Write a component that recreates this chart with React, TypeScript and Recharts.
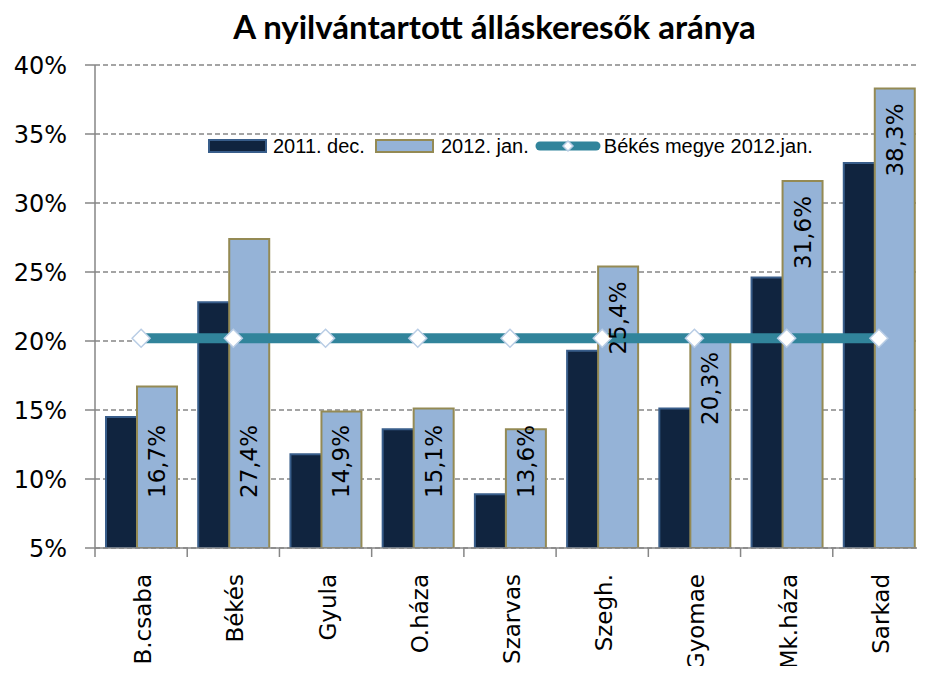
import React from 'react';
import { ComposedChart, Bar, Line, XAxis, YAxis, CartesianGrid, Legend, LabelList } from 'recharts';

const categories = ['B.csaba', 'Békés', 'Gyula', 'O.háza', 'Szarvas', 'Szegh.', 'Gyomae', 'Mk.háza', 'Sarkad'];
const dec2011 = [14.5, 22.8, 11.8, 13.6, 8.9, 19.3, 15.1, 24.6, 32.9];
const jan2012 = [16.7, 27.4, 14.9, 15.1, 13.6, 25.4, 20.3, 31.6, 38.3];
const county2012 = [20.2, 20.2, 20.2, 20.2, 20.2, 20.2, 20.2, 20.2, 20.2];
const yTicks = [5, 10, 15, 20, 25, 30, 35, 40];
const seriesNames = ['2011. dec.', '2012. jan.', 'Békés megye 2012.jan.'];
const title = 'A nyilvántartott álláskeresők aránya';

const data = categories.map((name, i) => ({
  name,
  dec: dec2011[i],
  jan: jan2012[i],
  county: county2012[i],
}));

const W = 925;
const H = 674;
const Y_AXIS_W = 95;
const X_AXIS_H = 126;
const TOP = 65;
const PLOT_BOTTOM = H - X_AXIS_H;
const BAND = (W - Y_AXIS_W) / categories.length;

const DARK_FILL = '#10243F';
const DARK_STROKE = '#385D8A';
const LIGHT_FILL = '#95B3D7';
const LIGHT_STROKE = '#948A54';
const LINE_COLOR = '#31849B';
const AXIS_COLOR = '#868686';
const TICK_FONT = 'DejaVu Sans, Verdana, sans-serif';

const XTick = (props: any) => {
  const { x, payload, index } = props;
  const left = x - BAND / 2;
  const right = x + BAND / 2;
  return (
    <g>
      <line x1={left} y1={PLOT_BOTTOM} x2={left} y2={PLOT_BOTTOM + 9} stroke={AXIS_COLOR} strokeWidth={1.5} />
      {index === categories.length - 1 && (
        <line x1={right} y1={PLOT_BOTTOM} x2={right} y2={PLOT_BOTTOM + 9} stroke={AXIS_COLOR} strokeWidth={1.5} />
      )}
      <text
        transform={`translate(${x + 10},${PLOT_BOTTOM + 26}) rotate(-90)`}
        textAnchor="end"
        style={{ fontFamily: TICK_FONT }}
        fontSize={23}
        fill="#000"
      >
        {payload.value}
      </text>
    </g>
  );
};

const YTick = (props: any) => {
  const { x, y, payload } = props;
  return (
    <text x={x} y={y} dy="0.36em" textAnchor="end" style={{ fontFamily: TICK_FONT }} fontSize={24} fill="#000">
      {`${payload.value}%`}
    </text>
  );
};

const JanLabel = (props: any) => {
  const { x, y, width, height, value, index } = props;
  const cx = x + width / 2 + 8;
  const nearBase = index < 5;
  const ty = nearBase ? y + height - 50 : y + 15;
  return (
    <text
      transform={`translate(${cx},${ty}) rotate(-90)`}
      textAnchor={nearBase ? 'start' : 'end'}
      style={{ fontFamily: TICK_FONT }}
      fontSize={23}
      fill="#000"
    >
      {Number(value).toFixed(1).replace('.', ',') + '%'}
    </text>
  );
};

const Diamond = (props: any) => {
  const { cx, cy, index } = props;
  const r = 9;
  return (
    <polygon
      key={`d-${index}`}
      points={`${cx},${cy - r} ${cx + r},${cy} ${cx},${cy + r} ${cx - r},${cy}`}
      fill="#FFFFFF"
      stroke="#B9CDE5"
      strokeWidth={1.5}
    />
  );
};

const LegendContent = () => {
  const textStyle: React.CSSProperties = {
    fontFamily: '"Liberation Sans", Arial, sans-serif',
    fontSize: 20,
    color: '#000',
    lineHeight: '22px',
    whiteSpace: 'nowrap',
  };
  return (
    <div style={{ display: 'flex', alignItems: 'center' }}>
      <svg width={59} height={14} style={{ marginRight: 6 }}>
        <rect x={1} y={1} width={57} height={12} fill={DARK_FILL} stroke={DARK_STROKE} strokeWidth={2} />
      </svg>
      <span style={textStyle}>{seriesNames[0]}</span>
      <svg width={59} height={14} style={{ marginLeft: 10, marginRight: 7 }}>
        <rect x={1} y={1} width={57} height={12} fill={LIGHT_FILL} stroke={LIGHT_STROKE} strokeWidth={2} />
      </svg>
      <span style={textStyle}>{seriesNames[1]}</span>
      <svg width={66} height={14} style={{ marginLeft: 6, marginRight: 3 }}>
        <line x1={5} y1={7} x2={61} y2={7} stroke={LINE_COLOR} strokeWidth={9} strokeLinecap="round" />
        <polygon points="33,2 38,7 33,12 28,7" fill="#FFFFFF" stroke="#B9CDE5" strokeWidth={1.5} />
      </svg>
      <span style={textStyle}>{seriesNames[2]}</span>
    </div>
  );
};

export default function App() {
  return (
    <div style={{ position: 'relative', width: W, height: H, margin: -8, background: '#fff' }}>
      <div
        style={{
          position: 'absolute',
          top: 6,
          left: 32,
          width: W,
          textAlign: 'center',
          fontFamily: 'Lato, "Open Sans", sans-serif',
          fontWeight: 700,
          fontSize: 33,
          lineHeight: '40px',
          color: '#000',
          zIndex: 2,
        }}
      >
        {title}
      </div>
      <ComposedChart
        width={W}
        height={H}
        data={data}
        margin={{ top: TOP, right: 0, bottom: 0, left: 0 }}
        barSize={40}
        barGap={-9}
      >
        <CartesianGrid vertical={false} stroke={AXIS_COLOR} strokeDasharray="5 3" strokeWidth={1.5} />
        <XAxis
          dataKey="name"
          height={X_AXIS_H}
          axisLine={{ stroke: AXIS_COLOR, strokeWidth: 1.5 }}
          tickLine={false}
          tick={<XTick />}
          interval={0}
        />
        <YAxis
          width={Y_AXIS_W}
          domain={[5, 40]}
          ticks={yTicks}
          interval={0}
          axisLine={{ stroke: AXIS_COLOR, strokeWidth: 1.5 }}
          tickLine={{ stroke: AXIS_COLOR, strokeWidth: 1.5 }}
          tickSize={10}
          tickMargin={18}
          tick={<YTick />}
          allowDataOverflow
        />
        <Legend
          layout="horizontal"
          verticalAlign="middle"
          align="center"
          content={<LegendContent />}
          wrapperStyle={{ position: 'absolute', left: 208, top: 135, width: 'auto' }}
        />
        <Bar dataKey="dec" name={seriesNames[0]} fill={DARK_FILL} stroke={DARK_STROKE} strokeWidth={2} isAnimationActive={false} />
        <Bar dataKey="jan" name={seriesNames[1]} fill={LIGHT_FILL} stroke={LIGHT_STROKE} strokeWidth={2} isAnimationActive={false}>
          <LabelList dataKey="jan" content={<JanLabel />} />
        </Bar>
        <Line
          dataKey="county"
          name={seriesNames[2]}
          type="linear"
          stroke={LINE_COLOR}
          strokeWidth={10}
          dot={(p: any) => <Diamond {...p} />}
          activeDot={false}
          isAnimationActive={false}
        />
      </ComposedChart>
    </div>
  );
}
